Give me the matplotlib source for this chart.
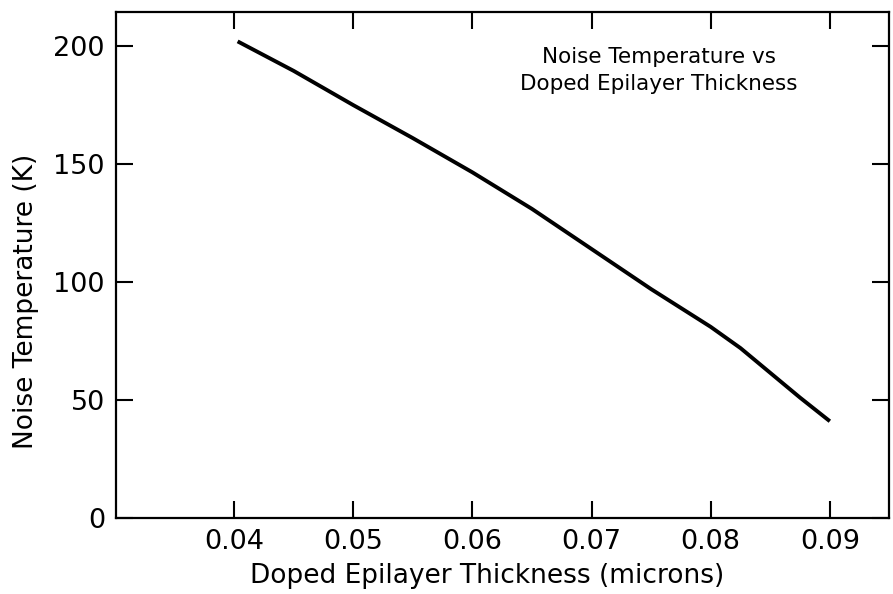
import matplotlib.pyplot as plt

# values
thickness = [0.0403, 0.045, 0.05, 0.055, 0.06, 0.065, 0.07, 0.075, 0.0775,
             0.08, 0.0825, 0.085, 0.0875, 0.09]
noise_temp = [202, 189.5, 175, 161, 146.5, 131, 114, 97, 89,
              81, 72, 61.5, 51, 41]

x_ticks = [0.04, 0.05, 0.06, 0.07, 0.08, 0.09]
x_labels = ["0.04", "0.05", "0.06", "0.07", "0.08", "0.09"]
y_ticks = [0, 50, 100, 150, 200]

fig = plt.figure(figsize=(8.93, 5.94), dpi=100)
ax = fig.add_axes([0.130, 0.128, 0.866, 0.852])

ax.plot(thickness, noise_temp, color="black", linewidth=2.8, solid_capstyle="butt")

ax.set_xlim(0.0301, 0.0950)
ax.set_ylim(0, 214.5)
ax.set_xticks(x_ticks)
ax.set_xticklabels(x_labels)
ax.set_yticks(y_ticks)

ax.tick_params(direction="in", length=12, width=1.5, top=True, right=True,
               labelsize=19.5, pad=8)
for side in ax.spines.values():
    side.set_linewidth(1.6)

ax.set_xlabel("Doped Epilayer Thickness (microns)", fontsize=19)
ax.set_ylabel("Noise Temperature (K)", fontsize=19)
ax.xaxis.set_label_coords(0.48, -0.088)
ax.yaxis.set_label_coords(-0.100, 0.427)

ax.text(0.07565, 189.5, "Noise Temperature vs\nDoped Epilayer Thickness",
        ha="center", va="center", fontsize=15.5, linespacing=1.45)

fig.savefig("out.png", dpi=100)
